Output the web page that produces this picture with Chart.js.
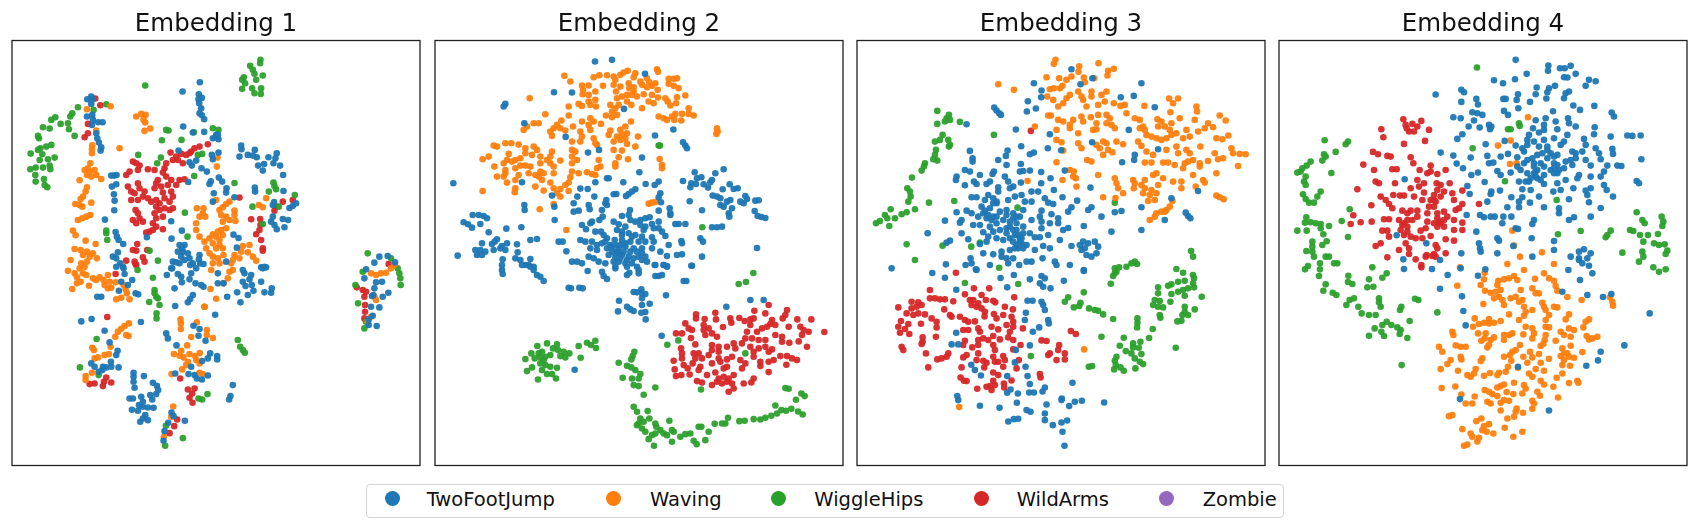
<!DOCTYPE html>
<html><head><meta charset="utf-8">
<script src="https://cdn.jsdelivr.net/npm/chart.js@4"></script>
<style>
html,body{margin:0;padding:0;background:#fff;width:1701px;height:526px;overflow:hidden;font-family:"DejaVu Sans",sans-serif}
canvas{position:absolute;top:0}
#legend{position:absolute;left:365.5px;top:483.5px;width:918px;height:34px;border:1.3px solid #d5d5d5;border-radius:4px;box-sizing:border-box}
.mk{position:absolute;width:15px;height:15px;border-radius:50%;top:498.7px;margin-top:-7.5px;margin-left:-7.5px}
.lb{position:absolute;top:487.5px;font-size:19.5px;line-height:24px;color:#111;white-space:nowrap}
</style></head><body>
<div id="legend"></div>
<script>
const categories=["TwoFootJump","Waving","WiggleHips","WildArms","Zombie"];
const colors=["#1f77b4","#ff7f0e","#2ca02c","#d62728","#9467bd"];
const titles=["Embedding 1","Embedding 2","Embedding 3","Embedding 4"];

const e1Blue=[601,247,549,275,598,283,597,298,607,294,599,310,605,325,600,340,607,346,614,358,551,380,580,398,614,396,650,405,640,415,657,418,655,405,648,412,275,290,263,298,278,298,275,312,262,350,278,345,280,360,296,367,309,367,277,375,290,400,293,415,298,428,305,442,303,452,537,452,725,437,726,448,720,470,745,465,766,450,760,467,772,472,807,472,832,460,828,475,822,490,794,492,776,497,790,512,842,497,851,525,570,487,590,482,577,497,606,505,622,515,640,478,637,465,657,458,344,527,335,527,351,525,337,560,350,553,343,583,345,602,344,631,316,659,566,546,634,544,630,552,658,533,668,545,643,580,681,565,680,578,640,605,705,592,766,563,767,575,852,573,824,606,820,615,890,610,880,618,870,624,815,665,825,675,832,688,855,682,850,657,866,660,820,650,515,664,547,692,516,716,348,696,352,710,357,720,371,732,442,712,702,704,717,714,712,743,795,800,785,802,540,735,548,745,555,735,535,755,550,755,565,760,530,787,545,770,555,780,570,775,520,785,518,805,540,790,580,790,600,765,598,778,602,790,340,770,350,775,355,757,362,790,370,800,680,785,730,810,372,805,350,800,375,822,365,845,398,840,385,855,358,872,408,880,416,883,293,890,305,890,515,805,502,825,535,822,545,830,547,847,525,865,572,795,575,820,570,838,590,805,612,792,588,850,605,855,612,860,655,820,655,850,672,850,580,885,572,897,565,907,527,918,647,944,683,890,713,877,745,885,723,907,762,872,757,855,735,820,755,825,750,838,730,845,738,858,785,845,795,877,817,865,815,878,800,802,790,805,1140,770,1125,788,1165,768,1187,787,1100,808,1095,835,1130,847,1148,845,1125,865,1122,885,1118,888,1150,890,1167,878,1115,920,1140,922,1120,947,1108,958,1132,978,1108,975,245,964,276,957,424,966,315,992,330,1027,354,1052,350,1065,334,1085,275,1090,285,1100,310,1100,320,1102,335,1100,357,1102,297,1115,308,1110,500,1000,505,1015,531,1036,582,977,600,987,597,1007,618,1022,632,1060,625,1075,653,1068,653,1078,608,1083,575,1100,527,1120,567,1122,585,1125,592,1135,607,1138,625,1126,402,1118,402,1130,402,1145,405,1163,433,1128,460,1148,472,1157,476,1170,470,1182,452,1185,458,1198,390,1195,400,1195,425,1190,430,1205,418,1215,430,1220,462,1223,445,1222,397,1229,415,1232,437,1245,430,1255,422,1265,445,1260,516,1237,522,1248,506,1268,556,1262,495,1293,492,1322,700,1155,693,1188,689,1198];
const e1Orange=[333,319,262,328,410,350,425,342,438,345,432,360,437,368,452,386,435,393,290,392,360,445,278,436,277,448,277,460,272,490,265,505,255,510,270,515,285,510,262,525,275,530,290,525,305,537,240,541,262,562,258,575,250,590,243,597,227,612,240,615,248,620,275,608,235,660,248,655,260,650,272,645,220,692,228,706,258,722,288,732,225,747,243,750,262,755,250,765,270,770,280,760,262,785,213,780,245,790,292,775,255,800,592,625,612,625,610,640,600,650,617,650,590,670,590,690,600,710,690,605,680,612,670,622,660,630,665,645,650,600,705,632,705,645,680,650,690,660,670,665,708,663,680,685,665,690,655,695,640,703,650,710,670,705,660,720,630,715,615,725,640,730,660,735,620,745,650,745,670,745,630,760,655,775,640,770,660,790,672,765,800,595,778,615,790,622,730,738,750,735,745,757,760,770,770,782,725,755,705,765,700,780,695,790,720,775,652,500,654,473,640,790,240,805,205,812,225,820,250,820,232,832,260,825,243,845,232,850,268,857,218,867,280,835,290,840,300,832,312,840,325,825,330,845,315,855,325,865,335,863,348,847,372,855,378,868,382,880,390,898,365,893,350,898,635,810,700,810,690,815,685,835,672,850,633,867,650,896,615,920,1115,820,1130,825,1145,820,1160,818,1175,805,1185,795,1125,890,1130,900,1115,950,1105,965,388,970,375,978,365,986,355,995,347,1010,380,1005,387,1008,278,1043,283,1050,333,1040,285,1075,295,1072,315,1065,328,1062,277,1118,258,1128,258,1140,543,958,544,970,544,987,592,967,622,990,622,1005,575,1011,640,1014,563,1036,545,1052,523,1062,540,1067,552,1072,570,1062,587,1068,601,1059,590,1080,600,1090,565,1085,560,1095,548,1108,516,1122,600,1118,610,1122,521,1219,515,1250,493,1310];
const e1Green=[437,257,783,180,782,190,752,198,760,210,765,222,790,227,733,232,770,240,737,250,728,267,758,265,765,280,785,265,784,282,728,240,320,313,282,330,235,322,218,340,212,350,205,370,183,372,167,352,155,360,130,382,150,386,225,408,208,388,115,408,118,415,155,435,140,440,122,445,115,450,93,461,128,463,145,478,120,480,165,473,150,497,152,508,108,503,92,508,130,503,107,525,108,545,133,537,135,555,143,562,500,390,507,392,487,421,546,420,640,385,657,390,583,397,416,465,484,473,473,490,595,465,608,462,584,528,705,549,822,548,825,558,830,568,808,575,886,585,838,620,759,620,790,672,556,638,320,692,320,700,323,720,564,710,475,782,450,752,414,810,460,833,465,870,465,880,470,890,475,895,449,906,480,915,471,940,471,955,615,920,291,1017,241,1102,297,1125,715,1020,722,1040,730,1050,736,1058,624,1182,597,1195,608,1198,499,1277,550,1314,497,1337,1105,760,1175,775,1195,805,1200,820,1203,835,1204,855,1068,855,1090,815,1076,910,1100,965,1095,985];
const e1Red=[287,296,302,316,265,372,265,400,255,412,625,433,600,440,585,445,575,455,560,465,545,462,530,470,513,458,520,480,500,490,495,505,490,518,400,485,410,490,420,497,415,510,445,508,465,510,380,525,390,515,550,490,535,480,570,460,540,540,555,538,530,555,515,540,505,555,500,530,475,540,470,550,485,560,465,565,490,578,515,575,520,590,510,605,495,595,480,610,495,625,510,630,520,625,480,630,465,640,470,655,490,650,460,670,470,680,450,695,440,698,490,688,460,690,385,560,395,575,415,550,420,565,405,580,435,575,430,590,395,600,415,600,445,595,455,605,470,600,470,620,408,630,415,640,400,660,420,655,430,665,410,670,720,593,850,605,880,600,830,620,825,632,755,658,782,657,783,675,780,690,770,703,785,720,790,745,790,752,413,732,400,750,410,752,443,750,430,772,435,785,380,782,405,785,408,792,410,795,348,822,323,951,1168,792,1072,862,1090,870,1100,875,1095,890,1097,915,1097,935,1095,955,542,1135,565,1168,585,1165,578,1180,570,1193,579,1208,320,1132,313,1145,310,1158,335,1147,285,1150,270,1152,533,1258,524,1278,510,1299];
const e1Zombie=[];

const e2Blue=[509,185,560,180,659,222,386,277,440,278,240,312,235,320,297,370,596,327,744,389,689,407,421,411,488,458,521,450,650,473,773,427,780,437,785,445,84,550,290,547,642,517,895,508,870,520,808,517,828,532,815,535,773,543,798,550,795,562,812,552,835,553,848,563,860,540,855,547,545,535,550,535,510,547,594,547,661,552,700,545,688,555,465,566,487,567,456,590,507,590,565,583,573,582,630,568,620,575,610,582,602,588,705,580,700,592,707,607,380,587,913,553,925,567,937,565,892,568,862,587,875,590,885,595,960,588,965,597,945,605,955,610,915,600,905,605,885,615,895,620,920,625,990,602,1000,601,793,604,830,631,387,620,297,615,298,630,445,610,445,635,460,632,490,615,493,628,530,630,543,600,540,610,545,615,700,632,733,625,735,640,735,645,988,633,997,648,1008,651,1020,654,910,640,912,650,142,645,160,645,175,648,185,655,115,667,128,673,140,683,165,672,190,697,243,686,288,682,388,660,532,650,522,660,495,670,500,665,470,675,482,688,510,695,527,695,614,630,610,645,590,648,565,665,580,673,600,680,615,660,630,665,645,660,660,655,673,652,645,675,660,680,680,672,700,665,685,685,700,685,710,695,750,672,760,672,780,672,860,682,875,682,890,680,575,690,590,695,610,700,630,705,650,710,535,705,545,715,465,720,480,725,500,725,515,735,530,730,720,708,680,712,685,725,568,720,590,720,615,725,640,725,660,725,768,723,770,730,825,715,833,725,995,744,400,725,412,725,315,720,335,717,215,718,208,725,200,732,170,730,245,730,230,738,275,733,225,745,240,750,205,750,150,750,165,750,180,755,155,765,170,765,97,767,277,757,270,775,285,780,315,777,232,778,230,795,290,795,310,795,325,800,423,754,545,745,560,740,580,745,600,740,625,745,650,745,680,745,495,745,515,750,730,735,705,755,725,768,755,765,770,763,830,770,550,765,570,770,590,765,610,770,640,770,660,770,440,785,455,785,470,790,490,770,505,775,520,785,540,790,565,785,580,785,600,790,620,790,650,780,665,785,690,795,715,795,725,800,798,797,570,800,605,800,635,800,230,810,232,822,300,795,315,800,325,810,335,825,345,830,355,843,430,863,437,865,462,863,472,865,487,813,530,815,535,828,545,837,570,805,605,825,612,818,640,810,640,820,690,828,700,828,710,825,688,795,715,795,725,798,800,797,775,843,783,843,722,886,625,876,635,877,648,868,650,880,660,882,650,895,650,915,673,911,581,902,605,920,615,928,625,933,578,934,648,938,660,936,661,958,903,920,975,900,1015,900,709,1007,448,1109,555,735,575,755,595,755,615,755,635,755,650,760,600,730,585,735,570,735,540,725,620,710,590,705,655,690,580,760,605,780,585,775,625,775,560,755];
const e2Orange=[417,228,435,245,505,232,522,226,545,226,565,230,570,240,585,225,595,218,607,213,630,220,625,232,645,245,665,235,695,208,698,216,730,237,755,235,745,237,470,257,490,257,473,270,472,283,490,285,510,275,533,258,565,255,572,275,585,260,610,250,612,265,625,262,650,255,672,247,665,262,680,258,690,250,730,252,745,258,760,265,697,270,655,283,680,285,698,293,720,295,727,305,755,292,780,287,752,310,735,317,313,295,510,300,512,320,460,312,470,318,490,305,495,315,430,320,430,347,575,295,590,290,605,285,620,285,635,290,625,275,605,305,618,315,650,325,670,305,685,310,555,315,580,315,570,325,560,335,575,345,560,352,542,347,700,350,715,355,725,360,740,350,750,342,770,342,768,362,790,325,790,342,805,347,747,360,360,343,325,370,340,370,408,362,395,375,385,385,375,395,380,408,405,385,420,392,443,380,470,365,495,355,490,375,505,365,527,372,495,390,465,395,470,410,465,425,440,425,505,415,510,430,515,435,555,392,550,405,585,390,600,380,617,365,605,400,590,405,575,410,600,415,565,425,585,420,638,410,630,440,605,432,590,452,565,450,295,390,305,380,875,385,877,395,873,402,205,437,215,440,240,430,258,430,280,434,300,445,325,440,335,450,320,465,300,460,190,470,172,478,250,462,245,480,235,490,260,485,270,480,285,475,345,470,380,455,375,470,365,480,440,450,450,455,440,470,455,480,520,480,580,472,608,478,703,477,710,495,710,505,570,490,570,500,525,500,515,505,207,500,240,510,270,505,285,497,300,497,315,500,345,490,375,490,385,500,405,482,440,490,215,530,240,520,235,530,245,548,270,540,280,525,310,520,330,525,345,515,355,520,340,530,350,540,385,520,440,515,460,520,485,517,500,522,510,525,435,532,430,548,420,555,405,567,270,565,268,577,330,560,355,572,375,548,385,565,395,580,405,590,430,573,172,573,385,612,343,628,423,690,670,611,680,608,690,606];
const e2Green=[700,437,704,437,831,682,984,819,962,846,940,852,365,1030,336,1038,395,1033,383,1045,398,1050,415,1055,432,1060,420,1072,405,1068,350,1055,340,1060,318,1060,328,1075,345,1072,360,1070,375,1065,300,1077,320,1102,305,1113,345,1090,360,1095,375,1100,395,1103,350,1110,365,1122,380,1122,338,1138,392,1135,355,1080,460,1038,466,1073,485,1028,497,1035,510,1022,512,1044,627,1055,622,1068,618,1078,580,1088,605,1097,618,1102,630,1110,645,1122,620,1135,640,1135,592,1133,625,1155,640,1158,690,1162,655,1184,726,1034,759,1021,960,1060,827,1168,625,1220,635,1235,667,1233,645,1255,672,1255,640,1270,655,1265,635,1275,650,1285,660,1295,690,1270,693,1280,732,1262,670,1317,680,1305,690,1300,705,1290,715,1300,725,1305,740,1290,745,1295,740,1325,686,1337,765,1310,780,1302,795,1300,805,1322,814,1332,820,1280,828,1280,840,1320,850,1295,868,1271,890,1270,900,1270,908,1253,942,1263,958,1262,985,1257,1005,1258,1020,1253,1038,1247,1050,1216,1055,1240,1068,1230,1082,1232,1098,1226,1118,1234,1132,1243,1112,1199,1128,1180,1138,1188,1080,1164,1090,1166];
const e2Red=[1030,915,1020,940,1085,930,1080,945,1072,955,987,932,870,938,812,943,812,955,838,957,872,958,915,955,942,954,958,963,975,958,985,955,1040,960,1116,958,1158,958,1197,996,780,970,790,985,800,990,835,975,850,985,835,990,860,1000,875,1010,893,981,918,968,975,975,1010,985,1025,980,1050,975,1035,972,1090,980,1125,980,1135,990,1150,995,752,1000,770,1000,797,1014,840,1005,965,995,995,995,960,1015,980,1015,1000,1020,1020,1020,1050,1005,1070,1010,1070,1025,1092,1028,1120,1024,1145,1040,1130,1005,950,1030,925,1030,930,1045,810,1033,860,1035,880,1040,905,1040,767,1045,770,1060,805,1060,820,1060,860,1050,850,1065,880,1055,975,1040,985,1055,1000,1045,1020,1040,1040,1048,1030,1055,1065,1068,1085,1068,1100,1075,1115,1080,745,1082,770,1075,810,1075,830,1075,880,1075,920,1070,945,1080,985,1070,1005,1085,1030,1085,1045,1080,748,1108,775,1095,802,1090,825,1100,820,1110,860,1090,885,1085,905,1078,960,1090,950,1105,1005,1098,1083,1094,895,1105,905,1100,1030,1116,787,1105,793,1123,752,1128,768,1125,845,1125,870,1117,925,1125,880,1135,895,1130,910,1135,815,1143,830,1147,860,1155,875,1145,890,1150,905,1145,920,1150,925,1165,910,1175,985,1135,978,1147,955,1150];
const e2Zombie=[];

const e3Blue=[665,208,728,235,692,253,552,250,875,250,575,272,574,292,813,292,852,288,534,304,558,326,531,335,915,322,433,323,440,332,448,340,453,345,350,373,498,389,837,390,600,403,514,439,594,445,634,451,360,453,473,452,552,458,540,463,468,468,368,475,368,485,445,480,470,495,513,492,855,465,853,480,817,487,925,448,727,427,345,510,360,515,390,525,432,515,428,522,510,515,520,513,540,512,574,516,645,512,320,530,318,540,372,545,380,552,345,556,420,545,410,552,465,530,475,545,490,560,480,565,513,548,602,535,574,550,722,563,612,570,445,562,415,585,445,575,365,592,380,592,545,575,565,575,515,585,405,600,430,595,440,605,475,600,495,590,525,605,545,605,585,595,595,608,610,612,638,592,682,602,1045,573,965,595,320,637,350,632,365,640,395,620,405,632,420,625,440,610,450,635,470,630,490,640,510,650,520,630,575,632,605,643,655,635,665,622,715,630,725,622,795,637,815,633,875,622,755,650,1008,638,1015,648,1022,655,945,660,285,662,335,660,330,668,385,650,390,675,370,675,410,655,425,660,440,650,460,660,480,665,500,670,520,680,545,660,570,650,575,665,600,670,625,655,625,670,702,678,875,690,785,695,655,684,640,690,233,700,335,700,400,697,415,710,430,695,450,690,470,685,490,690,505,705,520,700,540,700,575,685,595,705,555,712,570,712,630,720,355,718,300,722,290,728,390,732,410,725,440,715,460,720,480,715,510,715,515,730,500,735,530,735,580,738,665,738,690,735,700,725,715,730,735,725,745,740,695,750,740,760,725,770,710,765,705,745,400,760,430,763,455,755,480,750,495,745,520,745,555,750,600,745,615,785,620,795,455,770,470,775,490,775,530,785,545,785,578,775,362,775,365,790,288,793,347,795,380,810,420,795,475,790,508,795,660,795,702,810,125,805,247,819,285,833,378,808,452,834,492,825,540,838,702,813,642,842,575,828,585,835,570,850,580,860,602,865,472,862,319,869,533,902,548,902,575,905,580,915,585,930,528,938,525,960,595,960,597,970,568,982,549,995,319,998,305,1033,325,1033,540,1036,498,1050,495,1087,364,1094,375,1110,393,1126,527,1100,472,1128,533,1128,540,1152,482,1168,472,1178,504,1180,538,1177,552,1177,585,1162,578,1174,668,1148,322,1188,325,1200,390,1217,449,1223,501,1208,530,1230,542,1235,590,1213,585,1240,585,1260,636,1195,635,1200,658,1218,675,1205,696,1202,763,1207,475,1264,492,1257,505,1256,609,1275,635,1267,652,1261,638,1295,644,1337,470,645,490,655,480,680,500,690,510,725,505,745,490,725,430,650,415,645,400,640,420,680,440,670,470,700,495,705,515,715,430,610,500,650];
const e3Orange=[617,180,612,192,688,199,686,216,746,190,775,213,792,207,773,227,590,232,628,235,650,240,665,230,702,233,705,247,733,235,445,253,492,270,600,268,612,265,630,265,638,258,685,275,695,290,725,275,725,290,770,275,755,285,660,285,592,290,610,300,650,295,700,300,710,320,640,310,625,320,745,315,765,305,792,310,812,318,825,315,830,340,884,318,958,296,985,296,970,310,962,337,1040,320,1042,335,595,347,603,347,625,360,640,365,670,360,660,375,695,350,723,352,745,345,770,345,780,355,700,365,740,370,770,370,785,375,795,385,855,355,870,360,880,380,923,358,935,365,965,370,990,355,1035,360,1110,347,1128,362,555,380,660,385,620,390,730,390,740,388,685,400,870,385,885,390,890,405,925,380,945,380,960,390,1010,390,1045,395,1065,385,1075,370,1090,382,1020,410,620,420,635,427,685,430,695,445,740,435,760,425,770,430,750,445,775,450,800,425,820,433,865,425,875,438,905,410,920,415,935,420,950,415,965,405,980,400,1000,415,1100,415,1118,418,1136,407,1052,440,640,452,760,465,788,457,890,455,910,465,950,450,980,440,985,460,1010,450,1020,460,1095,460,1145,445,1150,460,1170,462,1188,463,1120,475,712,480,725,485,620,487,885,488,905,488,940,488,955,488,975,495,1005,490,1015,485,1030,480,1050,490,1075,483,1105,478,1165,498,660,510,672,515,1050,500,1000,505,670,530,678,535,745,525,795,535,850,540,885,540,910,525,920,520,940,535,1030,525,1100,520,533,543,638,540,800,550,805,565,855,550,875,555,970,545,995,545,1060,540,1065,548,680,560,852,565,885,565,905,570,925,555,995,565,1038,560,820,580,880,580,900,585,920,580,760,592,797,594,895,603,915,600,1100,587,1110,592,1122,598,968,603,960,620,950,630,935,635,920,640,915,650,900,660,945,635,703,1048,328,1221];
const e3Green=[262,333,297,345,290,355,300,360,285,365,262,372,330,366,432,405,278,405,270,420,255,425,295,420,300,435,297,440,258,450,255,465,250,478,262,482,225,490,222,500,215,512,186,533,172,565,180,575,182,590,175,605,237,608,313,603,122,628,105,645,135,655,118,678,112,655,78,670,90,663,155,643,170,637,195,628,170,733,278,737,364,740,390,728,503,623,795,608,1024,753,1030,770,195,780,448,803,345,849,505,852,543,1068,795,805,808,802,795,820,800,815,790,828,783,851,830,800,845,790,855,785,862,792,702,877,655,892,645,905,692,908,688,918,672,922,718,925,735,930,745,932,760,943,790,957,980,807,1000,818,1030,825,1033,835,1005,842,985,845,965,853,955,857,1030,850,1033,862,1015,865,1000,870,985,875,965,882,925,862,925,880,1005,887,1056,890,962,905,915,900,930,903,910,915,925,920,940,922,1005,920,1035,928,1005,935,998,945,1015,945,930,945,932,953,983,964,995,962,863,955,863,968,862,982,909,987,755,1010,822,1013,898,1014,872,1025,850,1030,810,1037,850,1042,867,1043,828,1053,978,1043,845,1060,875,1062,800,1070,855,1075,795,1082,870,1085,880,1092,798,1095,717,1100,727,1098,793,1108,812,1102,822,1112,857,1105];
const e3Red=[543,393,318,818,372,865,418,865,240,870,345,883,395,885,240,895,255,895,270,898,285,898,310,904,360,900,370,900,385,910,408,900,430,902,436,907,493,892,185,905,205,907,215,915,145,922,185,925,200,920,365,915,380,920,395,925,405,935,465,920,489,928,170,940,190,945,205,940,225,943,283,928,300,945,305,950,330,950,345,960,355,965,404,949,432,942,440,955,460,945,485,950,490,965,245,955,153,963,175,972,213,971,260,965,260,982,375,964,145,980,165,987,150,998,178,1002,340,990,355,990,385,985,390,995,425,980,445,988,470,975,490,980,480,995,519,985,663,993,678,1002,258,1010,218,1012,218,1025,215,1032,345,1022,340,1035,385,1020,400,1015,415,1020,430,1008,450,1018,475,1012,490,1020,575,1021,590,1023,512,1035,155,1040,160,1050,367,1042,385,1035,430,1035,435,1050,490,1048,628,1035,625,1050,228,1060,385,1060,350,1065,340,1072,295,1060,290,1070,275,1075,262,1078,430,1070,460,1068,465,1080,600,1060,595,1065,645,1060,645,1078,620,1080,380,1080,400,1082,410,1088,435,1085,445,1085,507,1080,235,1102,335,1102,403,1102,460,1100,500,1105,430,1117,445,1125,570,1122,572,1132,332,1132,342,1142,350,1143,485,1141,430,1142,420,1158,462,1150,463,1162,382,1166,410,1160,425,1170,435,1155];
const e3Zombie=[];

const e4Blue=[735,180,833,197,832,213,868,205,882,205,900,198,915,222,768,222,880,232,890,233,670,241,697,250,733,238,955,240,975,244,945,258,853,258,798,263,835,265,830,277,572,270,580,277,495,284,795,283,742,283,885,280,895,275,880,295,698,297,705,297,617,297,738,300,827,296,572,306,622,314,778,306,908,317,971,318,928,330,743,325,700,333,712,345,605,337,620,340,635,345,548,352,570,355,847,334,1023,338,1030,350,825,355,795,361,855,365,820,375,892,355,895,370,915,380,610,362,594,380,627,383,655,375,662,380,658,388,787,385,820,390,860,388,972,382,805,398,890,405,970,403,1020,410,1070,407,1085,408,1110,407,575,403,560,417,775,405,770,420,850,415,820,420,940,417,702,423,645,433,735,437,510,458,548,467,600,473,650,468,690,470,712,462,740,472,770,435,755,445,790,425,805,440,830,440,870,435,880,425,945,435,975,445,1025,447,1027,462,985,460,905,455,915,460,935,455,760,455,785,475,815,460,840,460,860,465,885,485,900,480,915,475,945,480,960,497,990,478,1112,478,558,491,577,505,655,490,668,488,740,500,760,490,790,500,810,490,830,475,850,490,880,505,905,495,1010,497,1040,497,1052,498,1000,515,680,513,690,525,720,518,750,510,770,520,795,515,820,525,850,520,865,510,925,525,960,530,990,530,622,518,602,525,402,538,745,545,765,545,775,545,800,535,820,552,860,550,885,540,920,535,1098,543,1105,550,590,558,642,546,1000,555,1008,570,688,572,662,575,660,582,755,568,780,570,848,575,870,570,908,565,945,572,960,565,597,582,722,592,755,592,805,590,895,598,1027,590,950,585,650,605,745,605,778,608,955,607,990,624,710,622,745,622,820,622,865,625,865,640,628,645,640,652,660,650,672,650,698,650,722,650,588,645,790,660,785,672,910,652,895,660,960,650,695,670,735,685,742,687,617,695,378,706,680,715,685,722,783,715,850,723,625,730,628,745,630,755,467,730,728,738,850,750,572,760,680,760,785,770,940,748,925,755,960,760,900,770,925,775,950,775,398,778,508,780,400,807,484,807,570,805,644,808,622,827,531,825,893,810,925,780,935,790,955,797,965,820,928,840,875,875,950,885,997,891,1022,882,508,866,574,889,578,933,585,976,1137,940,1061,1036,990,1055,982,1081,947,1097,835,1231,568,1197,742,1100,800,465,790,490,800,510,820,500,840,510,860,520,830,450,850,470,790,520,810,540,770,480,850,505,860,495,795,530,780,535];
const e4Orange=[772,352,682,437,720,422,718,492,738,490,725,692,730,737,814,757,748,770,850,792,710,792,568,802,760,810,642,818,640,838,630,855,560,857,643,872,683,842,700,838,715,835,730,828,740,840,680,855,660,878,675,875,690,870,670,895,685,890,695,900,720,895,735,890,750,870,755,900,745,905,700,915,638,912,820,820,793,836,835,835,850,842,855,858,860,872,785,865,795,880,805,880,890,891,933,900,1018,892,1025,905,1027,917,815,908,820,920,760,920,765,935,785,930,850,920,860,922,715,943,825,930,835,945,825,960,895,943,885,958,745,960,760,947,612,955,625,972,640,968,655,957,655,970,670,968,690,963,607,980,955,958,945,965,938,982,825,980,835,982,765,980,545,995,548,1005,622,1000,645,1000,670,1012,642,1015,660,1020,632,1022,700,1005,725,1000,715,1005,700,1020,758,1003,785,985,790,1000,785,1015,825,1005,822,1020,870,995,880,1005,895,985,910,990,900,1010,948,1008,955,1018,980,1010,965,1015,855,1022,655,1035,650,1042,505,1040,515,1055,555,1036,570,1040,585,1040,748,1035,810,1038,818,1032,875,1045,900,1037,735,1050,725,1055,718,1065,700,1070,778,1055,758,1070,785,1072,805,1062,835,1076,570,1070,572,1078,635,1075,630,1083,935,1056,880,1060,890,1060,895,1070,910,1073,870,1068,722,1082,770,1088,810,1088,880,1080,875,1095,898,1097,540,1080,530,1092,510,1107,742,1103,712,1100,705,1115,795,1107,820,1112,562,1112,615,1107,610,1120,590,1125,600,1130,640,1127,658,1119,685,1118,680,1125,775,1120,785,1130,875,1120,858,1133,920,1142,923,1148,895,1149,810,1142,820,1153,730,1148,700,1153,690,1158,680,1162,760,1155,765,1165,755,1180,728,1182,708,1176,848,1160,513,1164,554,1159,642,1170,655,1175,665,1182,680,1188,800,1175,808,1187,862,1192,572,1183,612,1189,700,1200,715,1202,690,1208,650,1205,660,1210,585,1210,605,1210,785,1202,790,1210,738,1225,735,1235,757,1238,785,1226,690,1231,730,1250,710,1255,545,1245,535,1248,632,1255,617,1263,655,1272,640,1278,635,1290,648,1295,668,1300,702,1283,755,1295,728,1310,575,1287,600,1300,605,1310,625,1313,620,1324,590,1333,580,1337];
const e4Green=[619,203,745,370,747,378,712,388,720,388,606,445,703,544,858,600,162,421,232,425,225,433,195,456,160,463,165,470,155,482,120,485,108,497,95,505,80,518,90,515,182,519,105,530,100,545,105,555,150,575,140,590,97,583,105,597,115,608,130,608,237,628,107,652,103,668,120,667,135,670,150,672,150,685,213,663,175,678,80,692,108,692,158,703,168,724,155,735,232,711,125,725,125,740,107,753,125,755,130,770,165,770,175,770,148,790,112,798,190,790,200,790,305,802,862,703,930,693,1020,692,1010,705,1005,712,1098,637,1115,660,1122,670,1078,690,1088,693,1108,705,1132,705,1118,725,1115,755,1162,702,1173,650,1178,665,1175,678,1150,730,1165,735,1182,733,1190,752,1185,762,1055,758,1118,770,1105,785,103,808,148,808,145,828,165,853,158,872,186,878,197,885,233,827,232,846,245,852,348,820,335,833,295,838,290,862,308,860,250,895,237,900,227,915,263,920,325,895,325,907,330,920,273,940,295,945,315,945,392,920,388,930,433,896,443,900,500,937,417,963,348,965,335,975,312,985,362,975,380,982,390,990,387,1002,332,995,340,1008,295,1007,410,1014,393,1095,1148,802,1165,815,1185,808];
const e4Red=[398,358,405,375,425,372,452,363,440,380,430,395,415,395,408,385,475,390,332,388,338,412,400,432,463,423,307,456,322,463,350,468,360,470,278,494,310,510,420,472,428,490,365,508,378,508,480,497,480,515,447,510,525,510,500,522,470,520,315,545,325,550,373,550,440,540,460,550,498,550,510,555,537,550,445,560,420,565,500,570,520,575,575,572,260,568,388,587,400,587,368,585,330,590,345,600,355,612,430,590,460,578,490,585,510,590,545,580,550,600,455,600,480,600,495,605,302,616,365,625,575,612,625,612,475,620,490,620,395,632,420,632,440,632,520,635,555,630,565,625,248,646,470,640,530,650,240,672,270,667,303,665,340,658,355,658,385,660,410,660,425,660,470,665,500,655,520,660,550,660,575,668,395,675,410,680,465,685,500,680,520,680,550,690,335,692,350,692,390,690,410,695,450,692,575,690,400,705,420,710,435,715,455,715,480,708,355,710,525,718,550,722,330,730,315,738,405,730,415,745,385,750,495,735,500,745,490,762,350,772,415,762,435,778,468,765,465,770,485,768,495,770,525,760,452,795,452,802,490,600,500,640,510,670,400,670,505,665,440,650,410,640,490,670];
const e4Zombie=[];

const xLimits=[[37,1262],[29,1253],[21,1246],[25,1249]];
const yLimits=[122,1396];
const panelLefts=[12.33,434.67,857,1279.33];
const embeddings=[[e1Blue,e1Orange,e1Green,e1Red,e1Zombie],[e2Blue,e2Orange,e2Green,e2Red,e2Zombie],[e3Blue,e3Orange,e3Green,e3Red,e3Zombie],[e4Blue,e4Orange,e4Green,e4Red,e4Zombie]];

function pairs(a){const o=[];for(let i=0;i+1<a.length;i+=2)o.push({x:a[i],y:a[i+1]});return o;}
const framePlugin={id:'frame',afterDatasetsDraw(c){const a=c.chartArea,g=c.ctx;g.save();g.strokeStyle='#222';g.lineWidth=1.3;g.strokeRect(a.left,a.top,a.right-a.left,a.bottom-a.top);g.restore();}};
Chart.defaults.font.family='"DejaVu Sans"';
embeddings.forEach((series,i)=>{
  const cv=document.createElement('canvas');
  cv.style.left=(panelLefts[i]-6)+'px';
  cv.style.width='420px';cv.style.height='472px';
  cv.width=420;cv.height=472;
  document.body.appendChild(cv);
  new Chart(cv,{type:'scatter',plugins:[framePlugin],
    data:{datasets:series.map((s,k)=>({label:categories[k],data:pairs(s),backgroundColor:colors[k]+'f2',borderWidth:0,pointRadius:3.3,pointHoverRadius:3.3}))},
    options:{responsive:false,animation:false,devicePixelRatio:1,
      layout:{padding:{left:6,right:6,bottom:6.5,top:0}},
      plugins:{legend:{display:false},tooltip:{enabled:false},
        title:{display:true,text:titles[i],color:'#111',font:{size:24.5,weight:'normal',lineHeight:1},padding:{top:12.5,bottom:3.5}}},
      scales:{x:{type:'linear',display:false,min:xLimits[i][0],max:xLimits[i][1]},
              y:{type:'linear',display:false,reverse:true,min:yLimits[0],max:yLimits[1]}}}});
});
const markerX=[392,613.3,778.3,981.3,1166.3];
const labelX=[426.7,650,814.3,1016.7,1202.7];
categories.forEach((n,i)=>{
  const m=document.createElement('div');m.className='mk';m.style.left=markerX[i]+'px';m.style.background=colors[i];document.body.appendChild(m);
  const t=document.createElement('div');t.className='lb';t.style.left=labelX[i]+'px';t.textContent=n;document.body.appendChild(t);
});
</script>
</body></html>
